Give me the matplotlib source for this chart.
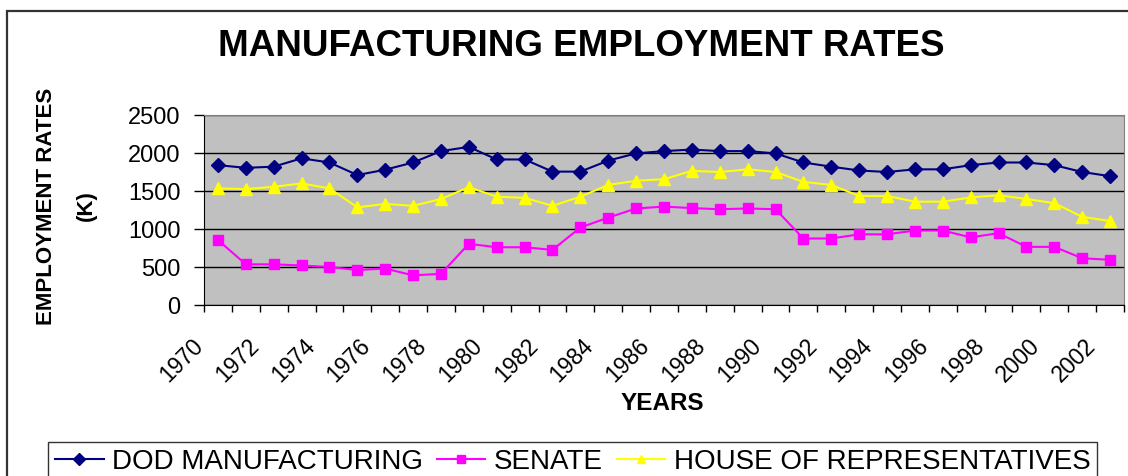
import matplotlib.pyplot as plt
from matplotlib.patches import Rectangle
from matplotlib.transforms import ScaledTranslation

plt.rcParams['font.family'] = ['Liberation Sans', 'DejaVu Sans']

years = list(range(1970, 2003))
dod_manufacturing = [1840, 1805, 1820, 1930, 1875, 1710, 1780, 1875, 2025, 2080,
                     1915, 1915, 1755, 1755, 1900, 1995, 2025, 2045, 2025, 2025,
                     1995, 1875, 1820, 1770, 1750, 1785, 1785, 1840, 1875, 1875,
                     1840, 1750, 1695]
senate = [855, 535, 535, 520, 500, 460, 480, 390, 410, 805,
          760, 760, 725, 1020, 1150, 1270, 1295, 1275, 1260, 1270,
          1260, 875, 875, 930, 930, 980, 980, 890, 945, 765,
          765, 615, 595]
house = [1535, 1525, 1555, 1600, 1535, 1285, 1330, 1305, 1395, 1550,
         1425, 1410, 1305, 1425, 1580, 1635, 1655, 1765, 1750, 1785,
         1750, 1620, 1580, 1435, 1435, 1360, 1360, 1415, 1445, 1395,
         1340, 1160, 1105]
y_ticks = [0, 500, 1000, 1500, 2000, 2500]
label_years = years[::2]

fig = plt.figure(figsize=(11.28, 4.76), dpi=100)
ax = fig.add_axes([204 / 1128, 1 - 305 / 476, 920 / 1128, 190 / 476])
ax.set_facecolor('#C0C0C0')

# outer chart border (only top/left show in the crop)
fig.add_artist(Rectangle((7 / 1128, -0.2), 1.2, 1.2 - 11 / 476,
                         transform=fig.transFigure, fill=False,
                         edgecolor='#333333', linewidth=1.6))

ax.plot(years, dod_manufacturing, color='#000080', marker='D', markersize=7,
        linewidth=1.5, label='DOD MANUFACTURING', zorder=3)
ax.plot(years, senate, color='#FF00FF', marker='s', markersize=7,
        linewidth=1.5, label='SENATE', zorder=3)
ax.plot(years, house, color='#FFFF00', marker='^', markersize=9,
        linewidth=1.5, label='HOUSE OF REPRESENTATIVES', zorder=3)

ax.set_xlim(years[0] - 0.5, years[-1] + 0.5)
ax.set_ylim(0, 2500)
ax.set_yticks(y_ticks)
ax.set_yticklabels([str(v) for v in y_ticks], fontsize=17)
ax.yaxis.grid(True, color='black', linewidth=1.0)
ax.set_axisbelow(True)
ax.tick_params(axis='y', direction='out', length=7, width=1, pad=10)

# tick marks between categories, labels on every other year
ax.set_xticks([y - 0.5 for y in years] + [years[-1] + 0.5])
ax.set_xticklabels([])
ax.tick_params(axis='x', which='major', direction='out', length=5, width=1)
ax.set_xticks(label_years, minor=True)
ax.set_xticklabels([str(y) for y in label_years], minor=True, fontsize=16.5,
                   rotation=45, ha='right', va='top')
ax.tick_params(axis='x', which='minor', length=0, pad=21)
shift = ScaledTranslation(-10 / 100, 0, fig.dpi_scale_trans)
for lbl in ax.get_xticklabels(minor=True):
    lbl.set_transform(lbl.get_transform() + shift)

for side in ['top', 'right']:
    ax.spines[side].set_color('#808080')
for side in ['left', 'bottom']:
    ax.spines[side].set_color('black')

fig.text(581 / 1128, 1 - 47 / 476, 'MANUFACTURING EMPLOYMENT RATES',
         fontsize=26.5, fontweight='bold', ha='center', va='center')
fig.text(46 / 1128, 1 - 206 / 476, 'EMPLOYMENT RATES', fontsize=16,
         fontweight='bold', rotation=90, ha='center', va='center')
fig.text(86 / 1128, 1 - 206 / 476, '(K)', fontsize=16,
         fontweight='bold', rotation=90, ha='center', va='center')
fig.text(662 / 1128, 1 - 404 / 476, 'YEARS', fontsize=17.5,
         fontweight='bold', ha='center', va='center')

leg = fig.legend(loc='upper left', bbox_to_anchor=(48 / 1128, 1 - 442 / 476),
                 ncol=3, fontsize=20, frameon=True, fancybox=False,
                 edgecolor='black', handlelength=1.75, handletextpad=0.3,
                 columnspacing=0.5, borderpad=0.25, borderaxespad=0)
leg.get_frame().set_linewidth(1.0)
for line in leg.get_lines():
    line.set_markersize(6)

fig.savefig('out.png', dpi=100)
